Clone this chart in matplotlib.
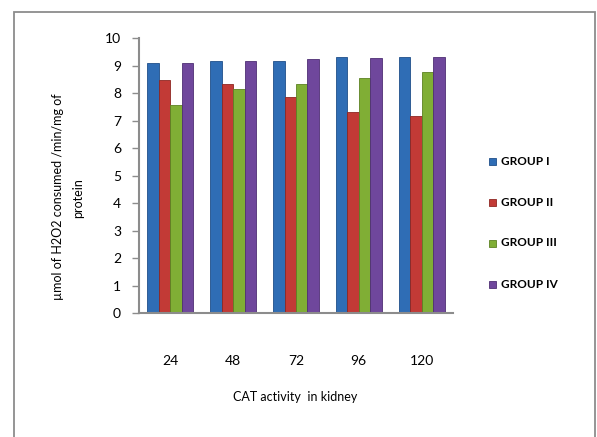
import matplotlib.pyplot as plt
import numpy as np
from matplotlib.patches import Rectangle

# hours after treatment
hours = ['24', '48', '72', '96', '120']
groups = ['GROUP I', 'GROUP II', 'GROUP III', 'GROUP IV']

group_1 = [9.10, 9.18, 9.17, 9.33, 9.33]
group_2 = [8.48, 8.32, 7.85, 7.33, 7.18]
group_3 = [7.56, 8.16, 8.32, 8.55, 8.78]
group_4 = [9.10, 9.17, 9.24, 9.30, 9.33]

colors = ['#2F6DB5', '#C23A36', '#80AE35', '#6F479C']
edges = ['#1F4F8A', '#8E2622', '#5C8222', '#4E2F74']

plt.rcParams['font.family'] = ['Lato', 'DejaVu Sans']

fig = plt.figure(figsize=(5.97, 4.37), dpi=100)

# outer chart border
fig.patches.append(Rectangle((14/597, -0.05), (595-14)/597, 1.05-11.5/437,
                             transform=fig.transFigure, fill=False,
                             edgecolor='#8C8C8C', linewidth=1.3))

ax = fig.add_axes([139/597, 1-313/437, (453-139)/597, (313-38.3)/437])

x = np.arange(len(hours))
w = 0.183
data = [group_1, group_2, group_3, group_4]
for i, vals in enumerate(data):
    ax.bar(x + (i-1.5)*w, vals, w, color=colors[i], edgecolor=edges[i],
           linewidth=0.6, label=groups[i], zorder=2)

ax.set_xlim(-0.5, len(hours)-0.5)
ax.set_ylim(0, 10)
ax.set_yticks(range(0, 11))
ax.set_xticks(x)
ax.set_xticklabels(hours, fontsize=10)
ax.tick_params(axis='y', labelsize=10, length=5, color='#8C8C8C', width=1, pad=8)
ax.tick_params(axis='x', length=0, pad=30)
for s in ['top', 'right']:
    ax.spines[s].set_visible(False)
for s in ['left', 'bottom']:
    ax.spines[s].set_color('#8C8C8C')
    ax.spines[s].set_linewidth(1.5)

fig.text(295/597, 1-397/437, 'CAT activity  in kidney', fontsize=9,
         ha='center', va='center')
fig.text(58/597, 1-197/437, 'µmol of H2O2 consumed /min/mg of', fontsize=9,
         ha='center', va='center', rotation=90)
fig.text(78/597, 1-198/437, 'protein', fontsize=9,
         ha='center', va='center', rotation=90)

# legend drawn as square markers with labels
leg_y = [161.7, 202.7, 243, 284]
for i, g in enumerate(groups):
    fig.patches.append(Rectangle((489/597, 1-(leg_y[i]+3.5)/437), 7/597, 7/437,
                                 transform=fig.transFigure, facecolor=colors[i],
                                 edgecolor=edges[i], linewidth=0.6))
    fig.text(501/597, 1-leg_y[i]/437, g, fontsize=8.5, fontweight='bold',
             ha='left', va='center')

fig.savefig('out.png', dpi=100)
